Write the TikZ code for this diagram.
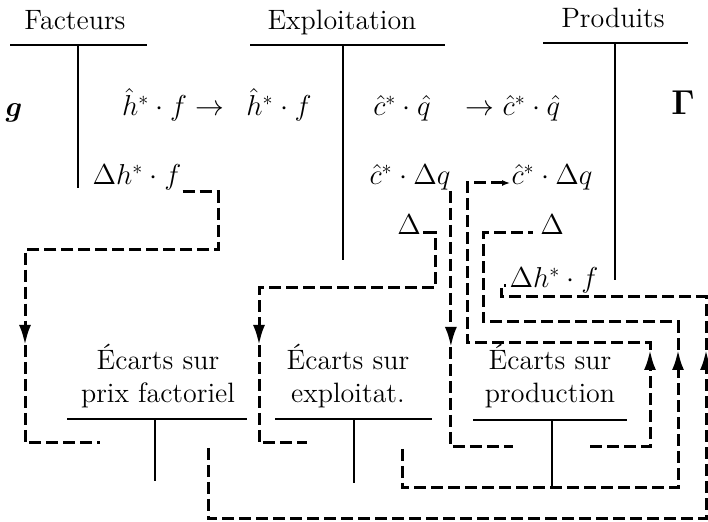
\documentclass[tikz,border=0pt]{standalone}
\usepackage{amsmath,amssymb}
\usepackage{fontspec}
\usepackage{tikz}
\usetikzlibrary{arrows.meta,calc}
\tikzset{
  lbl/.style={font=\fontsize{14}{16.5}\selectfont,inner sep=0pt,anchor=base},
  ecart/.style={lbl,anchor=center,align=center},
  tline/.style={line width=1.3pt},
  dline/.style={line width=1.5pt,dash pattern=on 6pt off 2.5pt},
  darrow/.style={-{Latex[length=10pt,width=6pt]}},
  sarrow/.style={-{Latex[length=4pt,width=3pt]}}
}

\begin{document}
\begin{tikzpicture}[x=0.5pt,y=-0.5pt]
\useasboundingbox (0,0) rectangle (708,522);

\node[lbl] (facteurs) at (75,30) {Facteurs};
\node[lbl] (exploit) at (342,30) {Exploitation};
\node[lbl] (produits) at (613,28) {Produits};
\draw[tline] (10,45) -- (147,45) (78,45) -- (78,188);
\draw[tline] (250,45) -- (445,45) (343,45) -- (343,260);
\draw[tline] (543,43) -- (688,43) (615,43) -- (615,280);

\node[lbl] (g) at (14,117) {$\boldsymbol{g}$};
\node[lbl] (hf1) at (173,116) {$\hat h^*\cdot f\rightarrow$};
\node[lbl] (hf2) at (279,116) {$\hat h^*\cdot f$};
\node[lbl] (cq1) at (402,116) {$\hat c^*\cdot\hat q$};
\node[lbl] (cq2) at (513,116) {$\rightarrow\hat c^*\cdot\hat q$};
\node[lbl,font=\fontsize{17}{20}\selectfont] (gamma) at (683,115) {$\boldsymbol{\Gamma}$};

\node[lbl] (dhf1) at (137,185) {$\Delta h^*\cdot f$};
\node[lbl] (cdq1) at (410,185) {$\hat c^*\cdot\Delta q$};
\node[lbl] (cdq2) at (552,185) {$\hat c^*\cdot\Delta q$};
\node[lbl] (d1) at (409,235) {$\Delta$};
\node[lbl] (d2) at (552,235) {$\Delta$};
\node[lbl] (dhf2) at (554,288) {$\Delta h^*\cdot f$};

\node[ecart] (ecfac) at (158,376) {Écarts sur\\prix factoriel};
\node[ecart] (ecexp) at (348,376) {Écarts sur\\exploitat.};
\node[ecart] (ecprod) at (550,376) {Écarts sur\\production};
\draw[tline] (67,419) -- (247,419) (155,419) -- (155,481);
\draw[tline] (275,419) -- (432,419) (354,419) -- (354,483);
\draw[tline] (473,420) -- (627,420) (552,420) -- (552,486);

\coordinate (fac1) at (100,443);
\coordinate (fac2) at (208,448);
\coordinate (exp1) at (307,443);
\coordinate (exp2) at (402,449);
\coordinate (prod1) at (513,447);
\coordinate (prod2) at (590,447);

\draw[dline,darrow] ($(dhf1.base east)+(1,7)$) -| (218,250) -| (25,345);
\draw[dline] (25,345) |- (fac1);
\draw[dline,darrow] ($(d1.base east)+(2,-2)$) -| (435,288) -| (259,345);
\draw[dline] (259,345) |- (exp1);
\draw[dline,darrow] ($(cdq1.base east)+(0,6)$) -- ++(0,156) coordinate (a3);
\draw[dline] (a3) |- (prod1);

\draw[dline,darrow] (prod2) -| (650,350);
\draw[dline,sarrow] (650,350) |- (467,343) |- ($(cdq2.base west)+(-1,-2)$);
\draw[dline,darrow] (exp2) |- (678,488) -- (678,350);
\draw[dline] (678,350) |- (483,322) |- ($(d2.base west)+(-7,-2)$);
\draw[dline,darrow] (fac2) |- (706,519) -- (706,350);
\draw[dline] (706,350) |- (501,297) |- ($(dhf2.base west)+(-3,-2)$);
\end{tikzpicture}
\end{document}
